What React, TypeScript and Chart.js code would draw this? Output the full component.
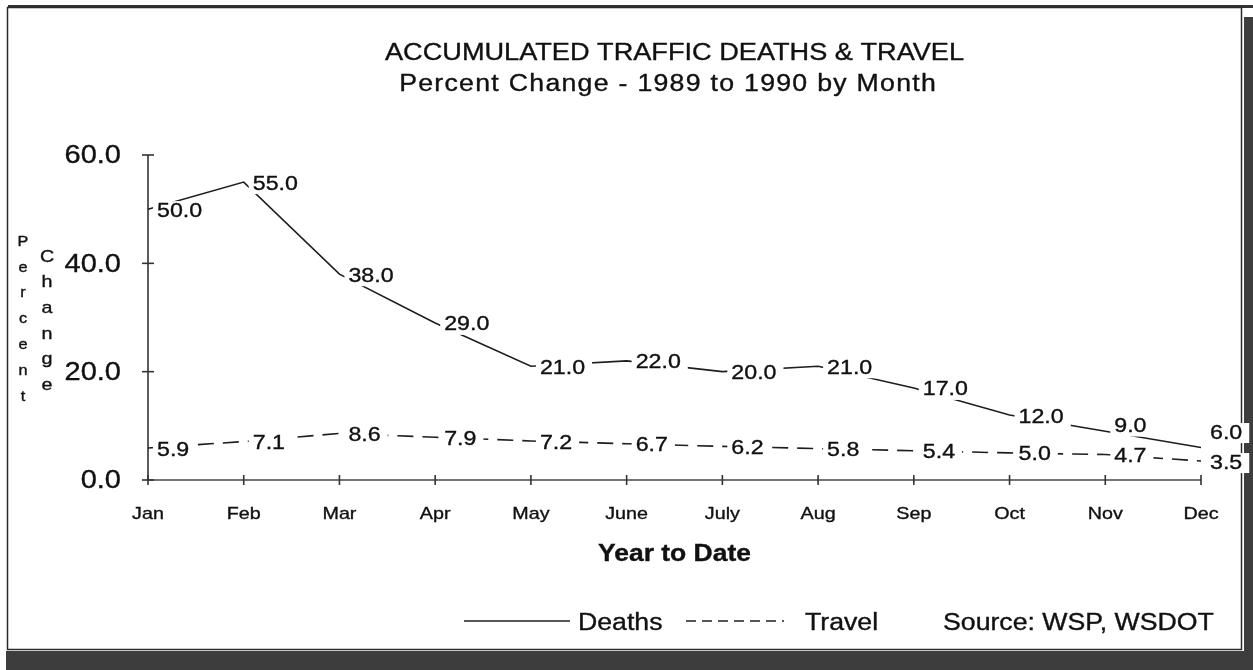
import { useEffect, useRef } from "react";
import { Chart, registerables } from "chart.js";

Chart.register(...registerables);

// ---------- data ----------
const months = ["Jan", "Feb", "Mar", "Apr", "May", "June", "July", "Aug", "Sep", "Oct", "Nov", "Dec"];
const deaths = [50.0, 55.0, 38.0, 29.0, 21.0, 22.0, 20.0, 21.0, 17.0, 12.0, 9.0, 6.0];
const travel = [5.9, 7.1, 8.6, 7.9, 7.2, 6.7, 6.2, 5.8, 5.4, 5.0, 4.7, 3.5];
const yTicks = [0, 20, 40, 60];
const seriesNames = ["Deaths", "Travel"];
const titleLines = ["ACCUMULATED TRAFFIC DEATHS & TRAVEL", "Percent Change - 1989 to 1990 by Month"];
const xTitle = "Year to Date";
const yTitleA = "Percent";
const yTitleB = "Change";
const sourceNote = "Source: WSP, WSDOT";

// ---------- style ----------
const W = 1253;
const H = 670;
const FONT = '"Liberation Sans", Arial, Helvetica, sans-serif';
const INK = "#111111";
const LINE = "#1e1e1e";
const SX = 1.16; // horizontal stretch of the scanned lettering

function txt(
  ctx: CanvasRenderingContext2D,
  s: string,
  x: number,
  y: number,
  size: number,
  spacing: number,
  align: CanvasTextAlign,
  baseline: CanvasTextBaseline,
  weight = "normal",
  sx = SX
) {
  ctx.save();
  ctx.font = `${weight} ${size}px ${FONT}`;
  (ctx as any).letterSpacing = `${spacing}px`;
  ctx.textAlign = align;
  ctx.textBaseline = baseline;
  ctx.fillStyle = INK;
  ctx.strokeStyle = INK;
  ctx.lineWidth = 0.35;
  let xx = 0;
  if (align === "center") xx = spacing / 2;
  if (align === "right") xx = spacing;
  ctx.translate(x, y);
  ctx.scale(sx, 1);
  ctx.fillText(s, xx, 0);
  ctx.strokeText(s, xx, 0);
  ctx.restore();
}

function textW(ctx: CanvasRenderingContext2D, s: string, size: number, sx = SX) {
  ctx.save();
  ctx.font = `normal ${size}px ${FONT}`;
  (ctx as any).letterSpacing = "0px";
  const w = ctx.measureText(s).width * sx;
  ctx.restore();
  return w;
}

const deco = {
  id: "deco",
  beforeDraw(chart: any) {
    const c: CanvasRenderingContext2D = chart.ctx;
    c.save();
    c.fillStyle = "#ffffff";
    c.fillRect(0, 0, W, H);
    // scanned page shadow
    c.fillStyle = "#3d3d3d";
    c.fillRect(1244, 17, 9, H - 17);
    c.fillRect(6, 651, W - 6, 19);
    c.fillStyle = "#333333";
    c.fillRect(8, 5, W - 8, 3);
    // frame
    c.strokeStyle = "#2a2a2a";
    c.lineWidth = 1.5;
    c.strokeRect(7.5, 7.5, 1234, 642);
    c.restore();
  },
  beforeDatasetsDraw(chart: any) {
    const c: CanvasRenderingContext2D = chart.ctx;
    const xs = chart.scales.x;
    const ys = chart.scales.y;
    const { left, right, top, bottom } = chart.chartArea;
    c.save();
    c.strokeStyle = "#333";
    c.lineWidth = 1.6;
    c.beginPath();
    c.moveTo(left, top);
    c.lineTo(left, bottom);
    c.stroke();
    c.strokeStyle = "#474747";
    c.beginPath();
    c.moveTo(left, bottom);
    c.lineTo(right, bottom);
    c.stroke();
    c.strokeStyle = "#333";
    yTicks.forEach((v) => {
      const y = ys.getPixelForValue(v);
      c.beginPath();
      c.moveTo(left - 6, y);
      c.lineTo(left + 6, y);
      c.stroke();
    });
    months.forEach((_, i) => {
      const x = xs.getPixelForValue(i);
      c.beginPath();
      c.moveTo(x, bottom - 5);
      c.lineTo(x, bottom + 5);
      c.stroke();
    });
    c.restore();
  },
  afterDatasetsDraw(chart: any) {
    const c: CanvasRenderingContext2D = chart.ctx;
    const size = 20;
    const metas = [chart.getDatasetMeta(0), chart.getDatasetMeta(1)];
    const series = [deaths, travel];
    const items: { x: number; y: number; s: string; w: number }[] = [];
    months.forEach((_, i) => {
      const pts = metas.map((m, d) => ({
        x: m.data[i].x,
        y: m.data[i].y + 2,
        s: series[d][i].toFixed(1),
      }));
      // keep labels of the two series apart
      const [a, b] = pts[0].y <= pts[1].y ? [pts[0], pts[1]] : [pts[1], pts[0]];
      if (b.y - a.y < 30) a.y = b.y - 30;
      pts.forEach((p) => items.push({ ...p, w: textW(c, p.s, size) }));
    });
    c.save();
    c.fillStyle = "#ffffff";
    items.forEach((p) => {
      c.fillRect(p.x + 5, p.y - 10, p.w + 11, 20);
    });
    c.restore();
    items.forEach((p) => {
      txt(c, p.s, p.x + 9, p.y, size, 0, "left", "middle");
    });
  },
  afterDraw(chart: any) {
    const c: CanvasRenderingContext2D = chart.ctx;
    const xs = chart.scales.x;
    const ys = chart.scales.y;
    const { left, right } = chart.chartArea;
    const cx = (left + right) / 2;

    // titles
    txt(c, titleLines[0], cx, 60, 23, 0, "center", "alphabetic", "normal", 1.18);
    txt(c, titleLines[1], cx - 7, 91, 23, 1.1, "center", "alphabetic");

    // tick labels
    yTicks.forEach((v) => {
      const y = ys.getPixelForValue(v);
      txt(c, v.toFixed(1), 121, y + 1.5, 25, 0, "right", "middle");
    });
    months.forEach((m, i) => {
      const x = xs.getPixelForValue(i);
      txt(c, m, x, 514, 17, 0, "center", "middle");
    });

    // axis titles
    txt(c, xTitle, cx, 561, 23, 0, "center", "alphabetic", "bold", 1.15);
    yTitleA.split("").forEach((ch, i) => {
      txt(c, ch, 23, 242 + i * 25.8, 14, 0, "center", "middle");
    });
    yTitleB.split("").forEach((ch, i) => {
      txt(c, ch, 47, 257 + i * 25.7, 17, 0, "center", "middle");
    });

    // legend
    c.save();
    c.strokeStyle = LINE;
    c.lineWidth = 1.6;
    c.beginPath();
    c.moveTo(464, 621);
    c.lineTo(570, 621);
    c.stroke();
    c.setLineDash([10, 6]);
    c.beginPath();
    c.moveTo(686, 621);
    c.lineTo(784, 621);
    c.stroke();
    c.restore();
    txt(c, seriesNames[0], 578, 630, 23, 0, "left", "alphabetic");
    txt(c, seriesNames[1], 805, 630, 23, 0, "left", "alphabetic");
    txt(c, sourceNote, 943, 630, 23, 0, "left", "alphabetic");
  },
};

export default function App() {
  const ref = useRef<HTMLCanvasElement>(null);
  useEffect(() => {
    const canvas = ref.current;
    if (!canvas) return;
    const chart = new Chart(canvas, {
      type: "line",
      data: {
        labels: months,
        datasets: [
          {
            label: seriesNames[0],
            data: deaths,
            borderColor: LINE,
            borderWidth: 1.6,
            pointRadius: 0,
            tension: 0,
            fill: false,
          },
          {
            label: seriesNames[1],
            data: travel,
            borderColor: LINE,
            borderWidth: 1.6,
            borderDash: [16, 9],
            pointRadius: 0,
            tension: 0,
            fill: false,
          },
        ],
      },
      options: {
        responsive: false,
        animation: false,
        devicePixelRatio: 1,
        events: [],
        layout: { padding: { left: 0, top: 155, right: 52, bottom: 150 } },
        plugins: {
          legend: { display: false },
          title: { display: false },
          tooltip: { enabled: false },
        },
        scales: {
          x: {
            type: "category",
            offset: false,
            grid: { display: false },
            border: { display: false },
            ticks: { display: false },
            afterFit: (s: any) => {
              s.height = 40;
            },
          },
          y: {
            min: 0,
            max: 60,
            grid: { display: false },
            border: { display: false },
            ticks: { display: false, stepSize: 20 },
            afterFit: (s: any) => {
              s.width = 148;
            },
          },
        },
      } as any,
      plugins: [deco],
    });
    return () => chart.destroy();
  }, []);
  return (
    <div style={{ position: "fixed", left: 0, top: 0, width: W, height: H }}>
      <canvas ref={ref} width={W} height={H} style={{ display: "block" }} />
    </div>
  );
}
